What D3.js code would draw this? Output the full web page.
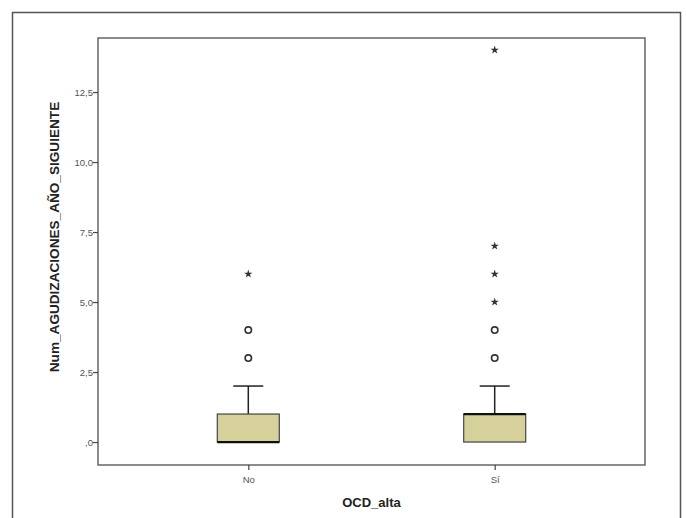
<!DOCTYPE html>
<html>
<head>
<meta charset="utf-8">
<script src="https://cdn.jsdelivr.net/npm/d3@7"></script>
<style>
  body { margin: 0; background: #fff; }
  text { font-family: "Liberation Sans", Arial, sans-serif; }
</style>
</head>
<body>
<script>
// groups and their box statistics
const groups = ["No", "Sí"];
const q1 = [0, 0];
const medians = [0, 1];
const q3 = [1, 1];
const whiskerLow = [0, 0];
const whiskerHigh = [2, 2];
// outliers (circles) and extremes (stars)
const outliers = [[3, 4], [3, 4]];
const extremes = [[6], [5, 6, 7, 14]];
const yTicks = [0, 2.5, 5, 7.5, 10, 12.5];

const w = 686, h = 518;
const svg = d3.select("body").append("svg")
  .attr("width", w)
  .attr("height", h);

// outer frame
svg.append("path")
  .attr("d", "M12.5,530 V12.5 H680.5 V530")
  .attr("fill", "none")
  .attr("stroke", "#555")
  .attr("stroke-width", 1.5);

const plotL = 98, plotR = 645, plotT = 38, plotB = 465;

const y = d3.scaleLinear().domain([-0.82, 14.43]).range([plotB, plotT]);
const x = d3.scalePoint().domain(groups).range([plotL, plotR]).padding(0.61);

// plot frame
svg.append("rect")
  .attr("x", plotL).attr("y", plotT)
  .attr("width", plotR - plotL).attr("height", plotB - plotT)
  .attr("fill", "none")
  .attr("stroke", "#666")
  .attr("stroke-width", 1.5);

const fmt = d => d3.format(".1f")(d).replace(".", ",").replace(/^0,/, ",");

const yAxis = svg.append("g")
  .attr("transform", `translate(${plotL},0)`)
  .call(d3.axisLeft(y).tickValues(yTicks).tickFormat(fmt).tickSize(5).tickSizeOuter(0));
yAxis.select(".domain").remove();
yAxis.selectAll("line").attr("stroke", "#444").attr("stroke-width", 1.2);
yAxis.selectAll("text").attr("font-size", 9.5).attr("fill", "#555").attr("x", -5);

const xAxis = svg.append("g")
  .attr("transform", `translate(0,${plotB})`)
  .call(d3.axisBottom(x).tickSize(5).tickSizeOuter(0));
xAxis.select(".domain").remove();
xAxis.selectAll("line").attr("stroke", "#444").attr("stroke-width", 1.2);
xAxis.selectAll("text").attr("font-size", 9.5).attr("fill", "#555").attr("dy", "1.1em");

svg.append("text")
  .attr("x", (plotL + plotR) / 2)
  .attr("y", 507)
  .attr("text-anchor", "middle")
  .attr("font-size", 13)
  .attr("font-weight", "bold")
  .attr("fill", "#222")
  .text("OCD_alta");

svg.append("text")
  .attr("transform", `translate(59,237) rotate(-90)`)
  .attr("text-anchor", "middle")
  .attr("font-size", 13.6)
  .attr("font-weight", "bold")
  .attr("fill", "#222")
  .text("Num_AGUDIZACIONES_AÑO_SIGUIENTE");

const boxW = 62, capW = 30;

groups.forEach((g, i) => {
  const cx = x(g);
  const gg = svg.append("g");
  // whisker
  gg.append("line")
    .attr("x1", cx).attr("x2", cx)
    .attr("y1", y(q3[i])).attr("y2", y(whiskerHigh[i]))
    .attr("stroke", "#222").attr("stroke-width", 1.5);
  gg.append("line")
    .attr("x1", cx - capW / 2).attr("x2", cx + capW / 2)
    .attr("y1", y(whiskerHigh[i])).attr("y2", y(whiskerHigh[i]))
    .attr("stroke", "#222").attr("stroke-width", 1.5);
  // box
  gg.append("rect")
    .attr("x", cx - boxW / 2).attr("width", boxW)
    .attr("y", y(q3[i])).attr("height", y(q1[i]) - y(q3[i]))
    .attr("fill", "#d6d09a")
    .attr("stroke", "#444").attr("stroke-width", 1.2);
  // median
  gg.append("line")
    .attr("x1", cx - boxW / 2).attr("x2", cx + boxW / 2)
    .attr("y1", y(medians[i])).attr("y2", y(medians[i]))
    .attr("stroke", "#111").attr("stroke-width", 2.2);
  // outliers
  gg.selectAll("circle").data(outliers[i]).enter().append("circle")
    .attr("cx", cx).attr("cy", d => y(d)).attr("r", 3.2)
    .attr("fill", "none").attr("stroke", "#333").attr("stroke-width", 1.6);
  // extremes
  gg.selectAll(".star").data(extremes[i]).enter().append("path")
    .attr("class", "star")
    .attr("transform", d => `translate(${cx},${y(d)})`)
    .attr("d", d3.symbol(d3.symbolStar, 22))
    .attr("fill", "#333");
});
</script>
</body>
</html>
